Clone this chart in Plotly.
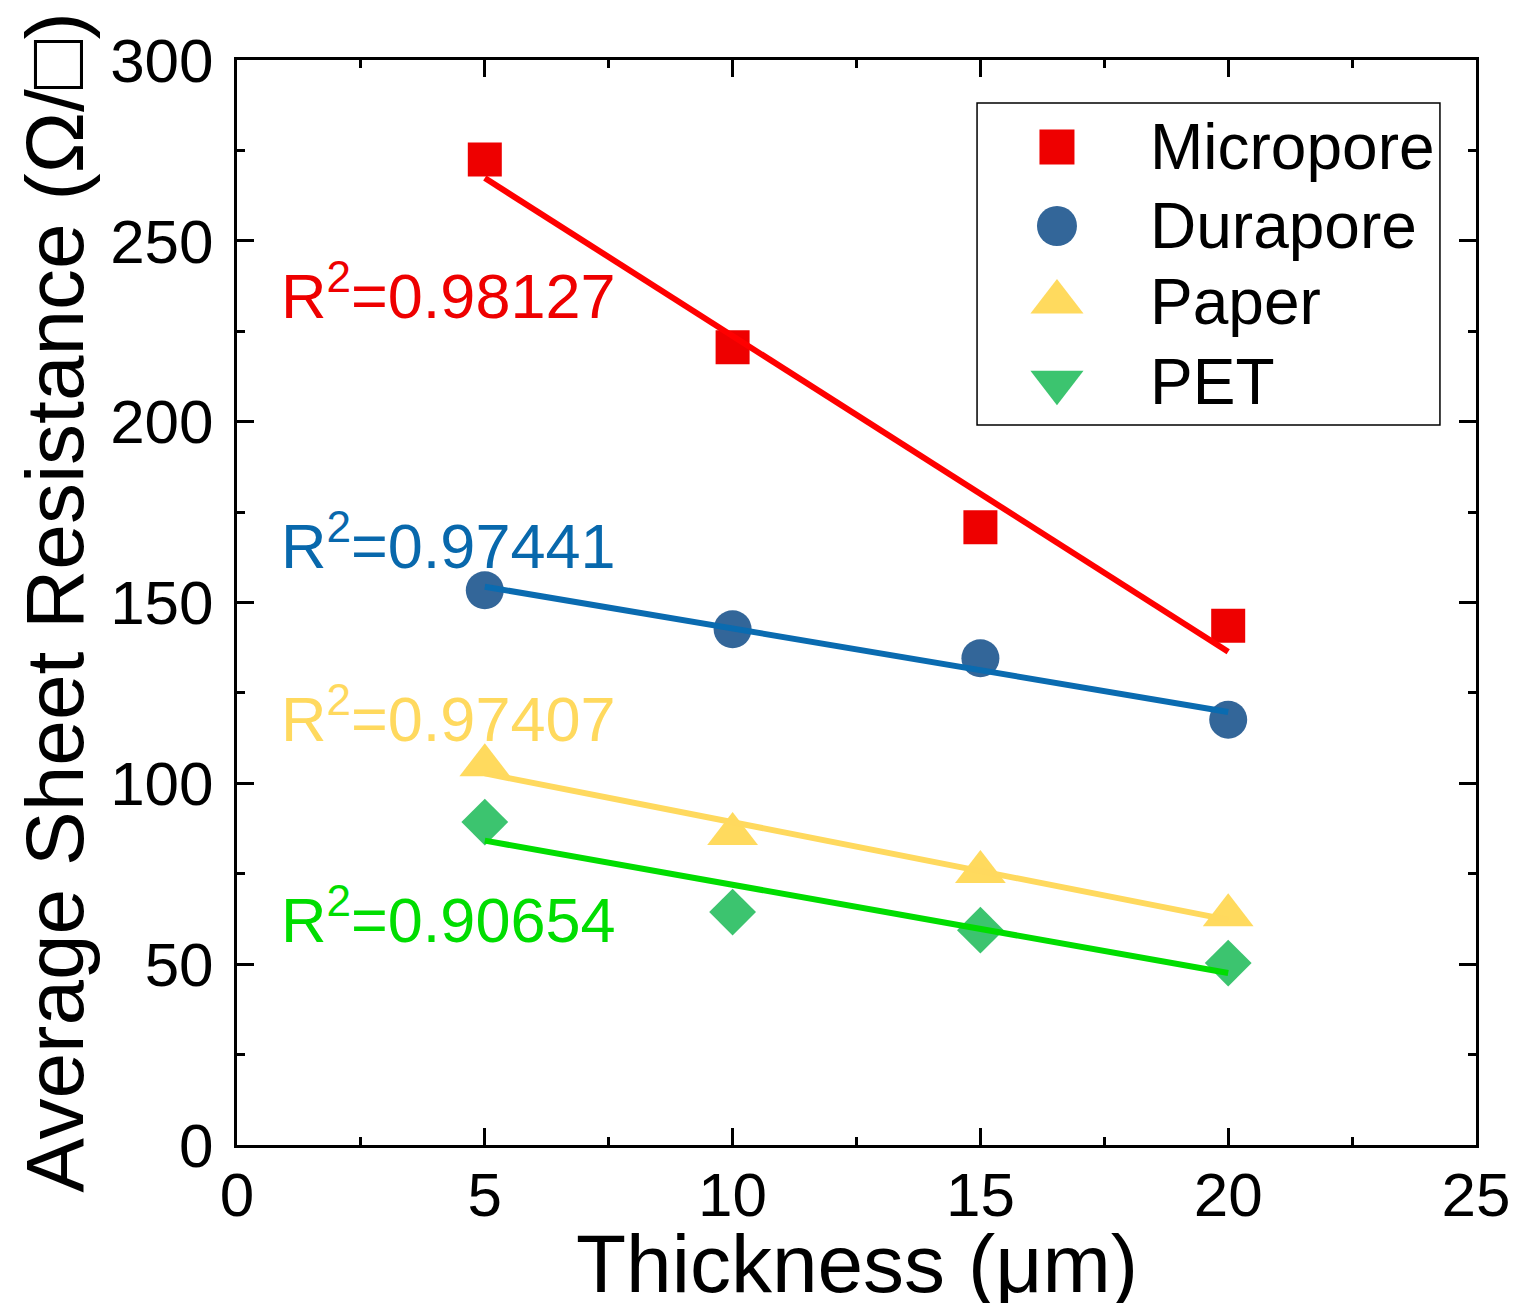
import numpy as np
import plotly.graph_objects as go

thickness = [5, 10, 15, 20]
micropore = [272.5, 220.6, 170.8, 143.6]
durapore = [153.4, 142.6, 134.6, 117.6]
paper = [105.0, 86.0, 75.5, 63.5]
pet = [89.3, 64.4, 59.4, 50.3]

series_names = ["Micropore", "Durapore", "Paper", "PET"]
r2_labels = ["0.98127", "0.97441", "0.97407", "0.90654"]
r2_label_y = [236, 167, 119, 63.5]

marker_colors = ["#EE0000", "#336699", "#FFDA5E", "#3CC46F"]
line_colors = ["#FF0000", "#0A6BB0", "#FFD95E", "#00DD00"]
text_colors = ["#EE0000", "#0868AC", "#FFD95E", "#00DD00"]
plot_symbols = ["square", "circle", "triangle-up", "diamond"]
plot_sizes = [34, 38, 44, 36]
legend_symbols = ["square", "circle", "triangle-up", "triangle-down"]
legend_sizes = [35, 40, 46, 46]

FONT = "Liberation Sans, Arial, sans-serif"

fig = go.Figure()
data_sets = [micropore, durapore, paper, pet]

for i, ys in enumerate(data_sets):
    x = np.array(thickness, dtype=float)
    y = np.array(ys, dtype=float)
    slope, intercept = np.polyfit(x, y, 1)
    fx = np.array([x.min(), x.max()])
    fig.add_trace(go.Scatter(
        x=thickness, y=ys, mode="markers", name=series_names[i],
        marker=dict(symbol=plot_symbols[i], size=plot_sizes[i],
                    color=marker_colors[i], line=dict(width=0)),
        showlegend=False, cliponaxis=False))
    fig.add_trace(go.Scatter(
        x=fx, y=slope * fx + intercept, mode="lines",
        line=dict(color=line_colors[i], width=6),
        showlegend=False, hoverinfo="skip"))
    fig.add_annotation(
        x=0.85, y=r2_label_y[i], xref="x", yref="y",
        text=f"R<sup>2</sup>={r2_labels[i]}", showarrow=False,
        xanchor="left", yanchor="middle",
        font=dict(family=FONT, size=63, color=text_colors[i]))

# custom legend on an overlay axis (0..1 in both directions)
leg_marker_x = 0.6618
leg_text_x = 0.7353
leg_rows_y = [0.9198, 0.8470, 0.7770, 0.7030]
for i in range(4):
    fig.add_trace(go.Scatter(
        x=[leg_marker_x], y=[leg_rows_y[i]], xaxis="x2", yaxis="y2",
        mode="markers", showlegend=False, hoverinfo="skip",
        marker=dict(symbol=legend_symbols[i], size=legend_sizes[i],
                    color=marker_colors[i], line=dict(width=0))))
    fig.add_annotation(
        x=leg_text_x, y=leg_rows_y[i], xref="x2", yref="y2",
        text=series_names[i], showarrow=False, xanchor="left", yanchor="middle",
        font=dict(family=FONT, size=64, color="black"))

fig.add_shape(type="rect", xref="x2", yref="y2",
              x0=0.5973, x1=0.9709, y0=0.6636, y1=0.9604,
              line=dict(color="black", width=1.5), fillcolor="rgba(0,0,0,0)")

# x-axis title as an annotation so it can sit as low as in the reference
fig.add_annotation(
    x=0.5, y=-0.0655, xref="paper", yref="paper",
    text="Thickness (μm)", showarrow=False, xanchor="center", yanchor="top",
    font=dict(family=FONT, size=82, color="black"))

axis_common = dict(
    showline=True, linecolor="black", linewidth=3, mirror="allticks",
    ticks="inside", ticklen=17, tickwidth=3, tickcolor="black",
    showgrid=False, zeroline=False, automargin=False,
    tickfont=dict(family=FONT, size=62, color="black"),
)

fig.update_layout(
    width=1526, height=1303,
    paper_bgcolor="white", plot_bgcolor="white",
    margin=dict(l=237, r=50, t=60, b=158),
    font=dict(family=FONT, color="black"),
    xaxis=dict(range=[0, 25], dtick=5, tick0=0,
               minor=dict(dtick=2.5, ticks="inside", ticklen=8, tickwidth=3, tickcolor="black"),
               ticklabelstandoff=-6,
               **axis_common),
    yaxis=dict(range=[0, 300], dtick=50, tick0=0,
               minor=dict(dtick=25, ticks="inside", ticklen=8, tickwidth=3, tickcolor="black"),
               title=dict(text="Average Sheet Resistance (Ω/□)", font=dict(family=FONT, size=82), standoff=0),
               ticklabelstandoff=8,
               **axis_common),
    xaxis2=dict(range=[0, 1], overlaying="x", anchor="y2", visible=False, fixedrange=True),
    yaxis2=dict(range=[0, 1], overlaying="y", anchor="x2", visible=False, fixedrange=True),
    showlegend=False,
)

fig.write_html("out.html", config={"displayModeBar": False},
               post_script="document.body.style.margin='0px';document.body.style.overflow='hidden';")
